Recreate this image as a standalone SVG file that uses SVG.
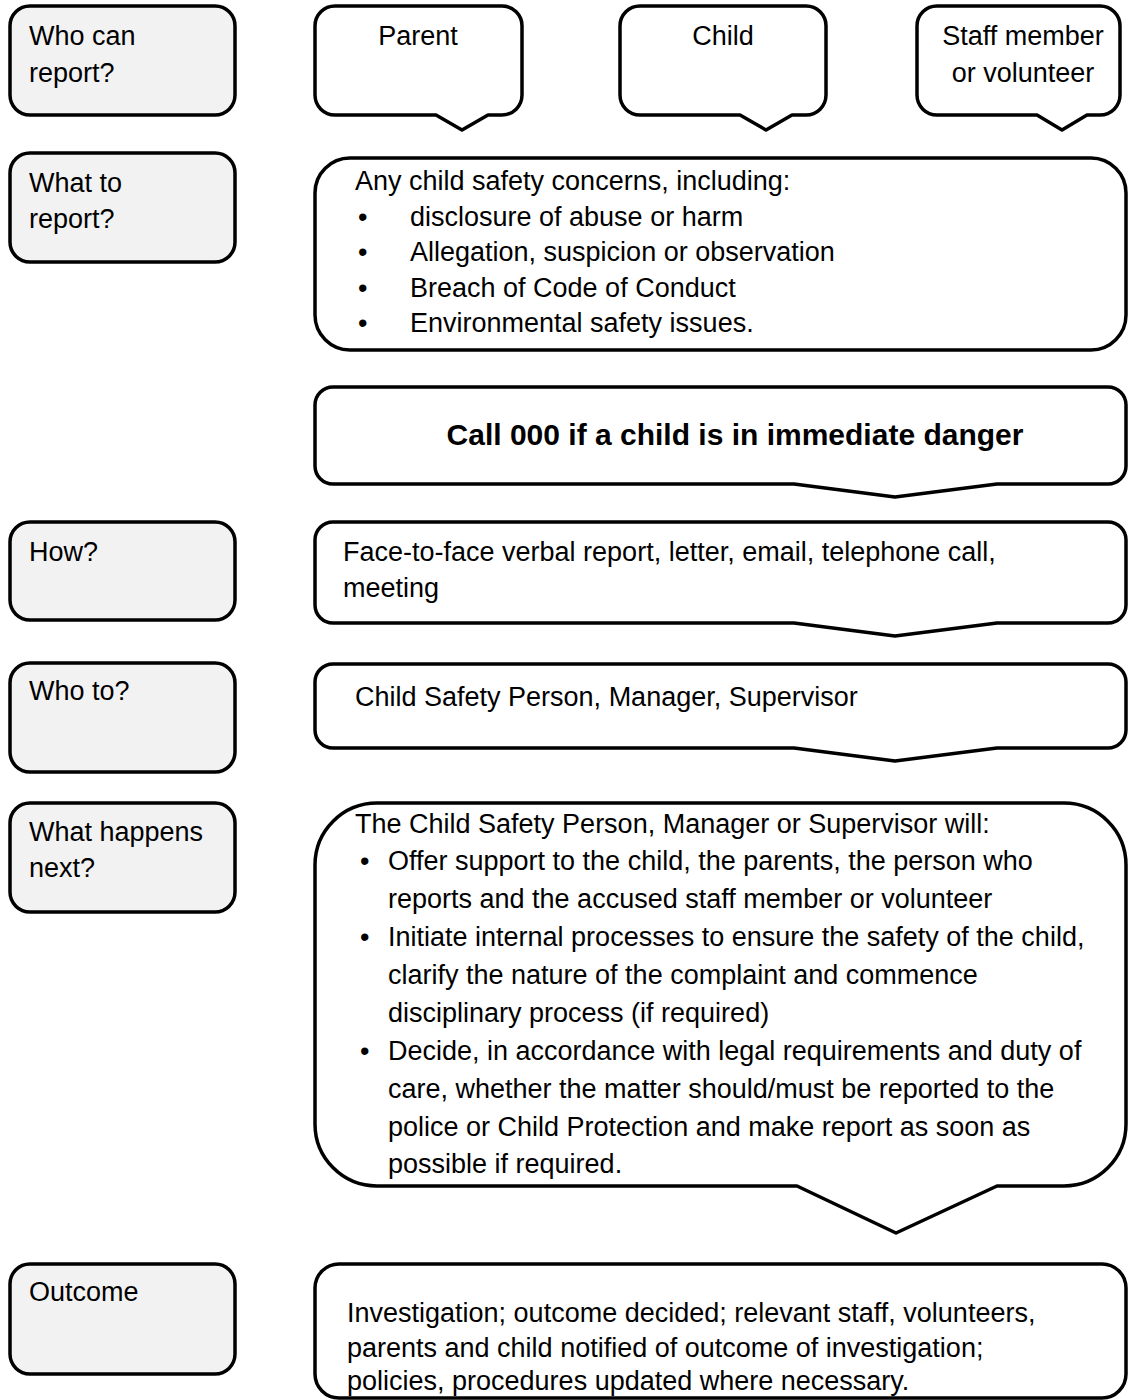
<svg xmlns="http://www.w3.org/2000/svg" width="1128" height="1400" viewBox="0 0 1128 1400">
<style>
.lbl{fill:#f2f2f2;stroke:#000;stroke-width:3.5}
.box{fill:#fff;stroke:#000;stroke-width:3.5;stroke-linejoin:round}
text{font-family:"Liberation Sans",Arial,sans-serif;font-size:27px;fill:#000}
.c{text-anchor:middle}
.b{font-weight:bold;font-size:30px}
</style>
<rect width="1128" height="1400" fill="#fff"/>
<g id="connectors"></g>
<g id="label-who-can-report">
<rect class="lbl" x="10" y="6" width="225" height="109" rx="20"/>
<text x="29" y="45">Who can</text><text x="29" y="82">report?</text>
</g>
<g id="bubble-parent">
<path class="box" d="M335,6 H502 A20,20 0 0 1 522,26 V95 A20,20 0 0 1 502,115 H488 L462,130 L436,115 H335 A20,20 0 0 1 315,95 V26 A20,20 0 0 1 335,6 Z"/>
<text class="c" x="418" y="45">Parent</text>
</g>
<g id="bubble-child">
<path class="box" d="M640,6 H806 A20,20 0 0 1 826,26 V95 A20,20 0 0 1 806,115 H792 L766,130 L740,115 H640 A20,20 0 0 1 620,95 V26 A20,20 0 0 1 640,6 Z"/>
<text class="c" x="723" y="45">Child</text>
</g>
<g id="bubble-staff">
<path class="box" d="M937,6 H1100 A20,20 0 0 1 1120,26 V95 A20,20 0 0 1 1100,115 H1087 L1062,130 L1037,115 H937 A20,20 0 0 1 917,95 V26 A20,20 0 0 1 937,6 Z"/>
<text class="c" x="1023" y="45">Staff member</text><text class="c" x="1023" y="82">or volunteer</text>
</g>
<g id="label-what-to-report">
<rect class="lbl" x="10" y="153" width="225" height="109" rx="20"/>
<text x="29" y="192">What to</text><text x="29" y="228">report?</text>
</g>
<g id="what-to-report">
<rect class="box" x="315" y="158" width="811" height="192" rx="35"/>
<text x="355" y="190">Any child safety concerns, including:</text>
<text x="358" y="225.5">•</text><text x="410" y="225.5">disclosure of abuse or harm</text>
<text x="358" y="261">•</text><text x="410" y="261">Allegation, suspicion or observation</text>
<text x="358" y="296.5">•</text><text x="410" y="296.5">Breach of Code of Conduct</text>
<text x="358" y="332">•</text><text x="410" y="332">Environmental safety issues.</text>
</g>
<g id="call-000">
<path class="box" d="M333,387 H1108 A18,18 0 0 1 1126,405 V466 A18,18 0 0 1 1108,484 H997 L895,497 L794,484 H333 A18,18 0 0 1 315,466 V405 A18,18 0 0 1 333,387 Z"/>
<text class="c b" x="735" y="445">Call 000 if a child is in immediate danger</text>
</g>
<g id="label-how">
<rect class="lbl" x="10" y="522" width="225" height="98" rx="20"/>
<text x="29" y="561">How?</text>
</g>
<g id="how">
<path class="box" d="M333,522 H1108 A18,18 0 0 1 1126,540 V605 A18,18 0 0 1 1108,623 H997 L895,636 L794,623 H333 A18,18 0 0 1 315,605 V540 A18,18 0 0 1 333,522 Z"/>
<text x="343" y="561">Face-to-face verbal report, letter, email, telephone call,</text>
<text x="343" y="597">meeting</text>
</g>
<g id="label-who-to">
<rect class="lbl" x="10" y="663" width="225" height="109" rx="20"/>
<text x="29" y="700">Who to?</text>
</g>
<g id="who-to">
<path class="box" d="M333,664 H1108 A18,18 0 0 1 1126,682 V730 A18,18 0 0 1 1108,748 H997 L895,761 L794,748 H333 A18,18 0 0 1 315,730 V682 A18,18 0 0 1 333,664 Z"/>
<text x="355" y="706">Child Safety Person, Manager, Supervisor</text>
</g>
<g id="label-what-happens-next">
<rect class="lbl" x="10" y="803" width="225" height="109" rx="20"/>
<text x="29" y="841">What happens</text><text x="29" y="877">next?</text>
</g>
<g id="what-happens-next">
<path class="box" d="M377,803 H1064 A62,62 0 0 1 1126,865 V1124 A62,62 0 0 1 1064,1186 H997 L896,1233 L797,1186 H377 A62,62 0 0 1 315,1124 V865 A62,62 0 0 1 377,803 Z"/>
<text x="355" y="833">The Child Safety Person, Manager or Supervisor will:</text>
<text x="360" y="870">•</text><text x="388" y="870">Offer support to the child, the parents, the person who</text>
<text x="388" y="908">reports and the accused staff member or volunteer</text>
<text x="360" y="946">•</text><text x="388" y="946">Initiate internal processes to ensure the safety of the child,</text>
<text x="388" y="984">clarify the nature of the complaint and commence</text>
<text x="388" y="1022">disciplinary process (if required)</text>
<text x="360" y="1060">•</text><text x="388" y="1060">Decide, in accordance with legal requirements and duty of</text>
<text x="388" y="1098">care, whether the matter should/must be reported to the</text>
<text x="388" y="1136">police or Child Protection and make report as soon as</text>
<text x="388" y="1173">possible if required.</text>
</g>
<g id="label-outcome">
<rect class="lbl" x="10" y="1264" width="225" height="110" rx="20"/>
<text x="29" y="1301">Outcome</text>
</g>
<g id="outcome">
<rect class="box" x="315" y="1264" width="811" height="134" rx="24"/>
<text x="347" y="1322">Investigation; outcome decided; relevant staff, volunteers,</text>
<text x="347" y="1357">parents and child notified of outcome of investigation;</text>
<text x="347" y="1390">policies, procedures updated where necessary.</text>
</g>
</svg>
